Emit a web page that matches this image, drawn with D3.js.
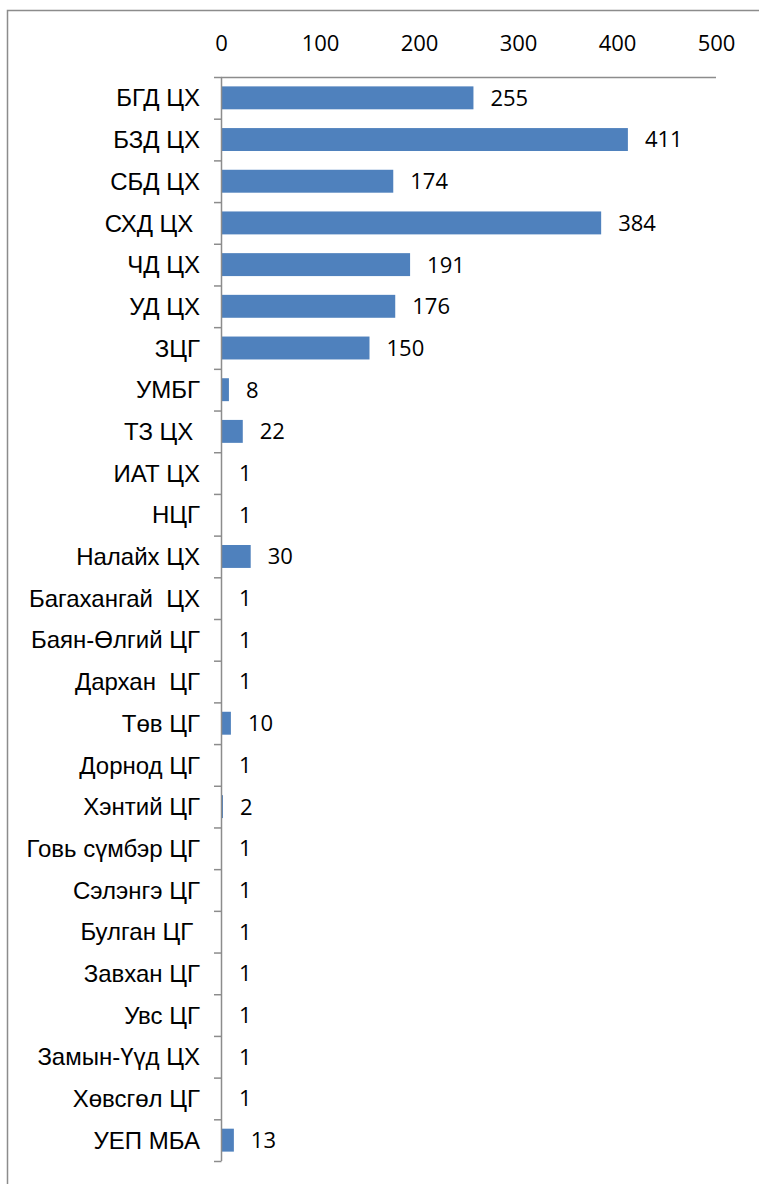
<!DOCTYPE html>
<html><head><meta charset="utf-8">
<script src="https://cdn.jsdelivr.net/npm/d3@7"></script>
<style>body{margin:0;background:#fff}svg{display:block}</style>
</head><body>
<svg id="c" width="759" height="1184"></svg>
<script>
const categories = ["БГД ЦХ","БЗД ЦХ","СБД ЦХ","СХД ЦХ ","ЧД ЦХ","УД ЦХ","ЗЦГ","УМБГ","ТЗ ЦХ ","ИАТ ЦХ","НЦГ","Налайх ЦХ","Багахангай  ЦХ","Баян-Өлгий ЦГ","Дархан  ЦГ","Төв ЦГ","Дорнод ЦГ","Хэнтий ЦГ","Говь сүмбэр ЦГ","Сэлэнгэ ЦГ","Булган ЦГ ","Завхан ЦГ","Увс ЦГ","Замын-Үүд ЦХ","Хөвсгөл ЦГ","УЕП МБА"];
const values = [255,411,174,384,191,176,150,8,22,1,1,30,1,1,1,10,1,2,1,1,1,1,1,1,1,13];
const tickValues = [0,100,200,300,400,500];

const svg = d3.select("#c");
svg.append("rect").attr("x",7.5).attr("y",10.5).attr("width",800).attr("height",1250)
  .attr("fill","none").attr("stroke","#8c8c8c").attr("stroke-width",1.5);

const x = d3.scaleLinear().domain([0,500]).range([221,716]);
const y = d3.scaleBand().domain(categories).range([77,1161]).paddingInner(0.45).paddingOuter(0.225);

const numFont = "'Open Sans', Lato, sans-serif";

// top axis
const ax = svg.append("g").attr("transform","translate(0,77)")
  .call(d3.axisTop(x).tickValues(tickValues).tickSize(0).tickPadding(26).tickFormat(d3.format("d")));
ax.select(".domain").remove();
ax.selectAll("text").attr("font-family",numFont).attr("font-size",22).attr("fill","#000");
svg.append("line").attr("x1",x(0)).attr("x2",x(500)).attr("y1",77.5).attr("y2",77.5)
  .attr("stroke","#8c8c8c").attr("stroke-width",1.5);

// bars
svg.append("g").selectAll("rect").data(values).join("rect")
  .attr("x",x(0)).attr("y",(d,i)=>y(categories[i]))
  .attr("width",d=>x(d)-x(0)).attr("height",y.bandwidth())
  .attr("fill","#4F81BD");

// category axis
const r = y.range();
svg.append("line").attr("x1",221.5).attr("x2",221.5).attr("y1",r[0]).attr("y2",r[1])
  .attr("stroke","#8c8c8c").attr("stroke-width",1.5);
svg.append("g").selectAll("line").data(d3.range(categories.length+1)).join("line")
  .attr("x1",214).attr("x2",221.5)
  .attr("y1",i=>r[0]+i*y.step()+0.5).attr("y2",i=>r[0]+i*y.step()+0.5)
  .attr("stroke","#8c8c8c").attr("stroke-width",1.5);

svg.append("g").selectAll("text").data(categories).join("text")
  .attr("x",200).attr("y",d=>y(d)+y.bandwidth()/2).attr("dy","0.36em")
  .attr("text-anchor","end").attr("font-family","'Liberation Sans', Arial, sans-serif")
  .attr("font-size",24).style("white-space","pre").attr("fill","#000").text(d=>d);

// value labels
svg.append("g").selectAll("text").data(values).join("text")
  .attr("x",d=>x(d)+17).attr("y",(d,i)=>y(categories[i])+y.bandwidth()/2).attr("dy","0.36em")
  .attr("font-family",numFont).attr("font-size",22).attr("fill","#000")
  .text(d=>d);
</script>
</body></html>
